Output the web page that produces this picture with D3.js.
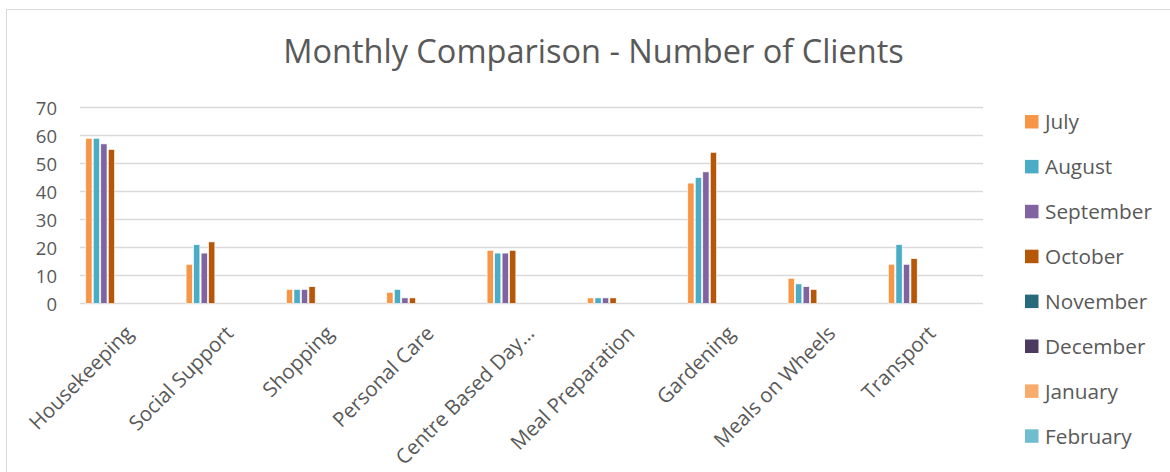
<!DOCTYPE html>
<html>
<head>
<meta charset="utf-8">
<script src="https://cdn.jsdelivr.net/npm/d3@7"></script>
<style>
  html, body { margin: 0; padding: 0; background: #fff; }
  svg { display: block; }
  text { font-family: "Open Sans", "Noto Sans", sans-serif; fill: #595959; }
</style>
</head>
<body>
<svg id="chart" width="1170" height="472"></svg>
<script>
// ---- data ----
const categories = ["Housekeeping", "Social Support", "Shopping", "Personal Care", "Centre Based Day\u2026", "Meal Preparation", "Gardening", "Meals on Wheels", "Transport"];
const months = ["July", "August", "September", "October", "November", "December", "January", "February", "March", "April", "May", "June"];
const legendMonths = ["July", "August", "September", "October", "November", "December", "January", "February"];
const july      = [59, 14, 5, 4, 19, 2, 43, 9, 14];
const august    = [59, 21, 5, 5, 18, 2, 45, 7, 21];
const september = [57, 18, 5, 2, 18, 2, 47, 6, 14];
const october   = [55, 22, 6, 2, 19, 2, 54, 5, 16];
const yTicks = [0, 10, 20, 30, 40, 50, 60, 70];
const colors = ["#F79646", "#4BACC6", "#8064A2", "#B65708", "#276A7C", "#4C3A61", "#F9AB6B", "#71BDD0", "#FAC090", "#93CDDD", "#B3A2C7", "#FCD5B5"];
const titleText = "Monthly Comparison - Number of Clients";

const seriesValues = {
  July: july, August: august, September: september, October: october
};

// ---- layout ----
const svg = d3.select("#chart");
const plot = { left: 80, right: 983, top: 107.5, bottom: 303.5 };

function fitFont(sel, target, base) {
  sel.style("font-size", base + "px");
  const w = sel.node().getComputedTextLength();
  const fs = base * target / w;
  sel.style("font-size", fs + "px");
  return fs;
}

// chart area border (extends past the window on right/bottom)
svg.append("rect")
  .attr("x", 6.5).attr("y", 9.5)
  .attr("width", 1200).attr("height", 500)
  .attr("fill", "none").attr("stroke", "#d9d9d9").attr("stroke-width", 1);

// title
const title = svg.append("text")
  .attr("x", 593.5).attr("y", 63)
  .attr("text-anchor", "middle")
  .text(titleText);
fitFont(title, 621, 30);

// scales
const x0 = d3.scaleBand().domain(categories).range([plot.left, plot.right]).padding(0);
const bw = x0.bandwidth();
const gw = bw * 0.885;
const x1 = d3.scaleBand().domain(months)
  .range([(bw - gw) / 2, (bw + gw) / 2]).paddingInner(0.17);
const y = d3.scaleLinear().domain([0, 70]).range([plot.bottom, plot.top]);
const color = d3.scaleOrdinal().domain(months).range(colors);

// gridlines
svg.append("g").selectAll("line").data(yTicks).join("line")
  .attr("x1", plot.left).attr("x2", plot.right)
  .attr("y1", d => y(d)).attr("y2", d => y(d))
  .attr("stroke", "#d9d9d9").attr("stroke-width", 1.3);

// y axis labels
const yAxis = d3.axisLeft(y).tickValues(yTicks).tickSize(0).tickPadding(0);
const yg = svg.append("g").attr("transform", `translate(57,1)`).call(yAxis);
yg.select(".domain").remove();
yg.selectAll("text").style("font-size", "18.5px").attr("fill", "#595959");

// bars
const rows = [];
months.forEach(m => {
  const vals = seriesValues[m];
  if (!vals) return;
  categories.forEach((c, i) => rows.push({ cat: c, month: m, value: vals[i] }));
});
svg.append("g").selectAll("rect").data(rows).join("rect")
  .attr("x", d => x0(d.cat) + x1(d.month))
  .attr("width", x1.bandwidth())
  .attr("y", d => y(d.value))
  .attr("height", d => y(0) - y(d.value))
  .attr("fill", d => color(d.month))
  .attr("stroke", "#ffffff").attr("stroke-width", 0.6);

// category labels
const xg = svg.append("g");
xg.selectAll("text").data(categories).join("text")
  .attr("text-anchor", "end")
  .attr("transform", d => `translate(${x0(d) + bw / 2 - 1},${plot.bottom + 26}) rotate(-45)`)
  .attr("dy", "0.35em")
  .style("font-size", "20.5px")
  .text(d => d);

// legend
const lg = svg.append("g").selectAll("g").data(legendMonths).join("g")
  .attr("transform", (d, i) => `translate(1025,${122 + i * 44.9})`);
lg.append("rect").attr("x", 0).attr("y", -7).attr("width", 13.5).attr("height", 13.5)
  .attr("fill", d => color(d));
const lt = lg.append("text").attr("x", 20).attr("y", 0).attr("dy", "0.36em")
  .style("font-size", "19px").text(d => d);
const sept = lt.filter(d => d === "September");
const lfs = fitFont(sept, 107, 19);
lt.style("font-size", lfs + "px");
</script>
</body>
</html>
